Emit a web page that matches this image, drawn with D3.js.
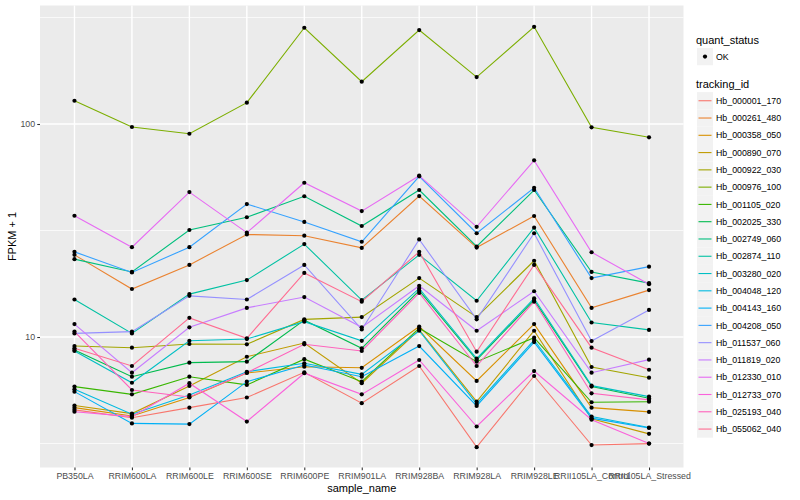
<!DOCTYPE html>
<html>
<head>
<meta charset="utf-8">
<script src="https://cdn.jsdelivr.net/npm/d3@7"></script>
<style>
  html, body { margin: 0; padding: 0; background: #fff; }
  text { font-family: "Liberation Sans", Arial, Helvetica, sans-serif; }
</style>
</head>
<body>
<svg id="chart" width="800" height="500"></svg>
<script>
// ---- data ----
const categories = ["PB350LA", "RRIM600LA", "RRIM600LE", "RRIM600SE", "RRIM600PE", "RRIM901LA",
  "RRIM928BA", "RRIM928LA", "RRIM928LE", "RRII105LA_Control", "RRII105LA_Stressed"];

const trackingIds = ["Hb_000001_170", "Hb_000261_480", "Hb_000358_050", "Hb_000890_070", "Hb_000922_030",
  "Hb_000976_100", "Hb_001105_020", "Hb_002025_330", "Hb_002749_060", "Hb_002874_110",
  "Hb_003280_020", "Hb_004048_120", "Hb_004143_160", "Hb_004208_050", "Hb_011537_060",
  "Hb_011819_020", "Hb_012330_010", "Hb_012733_070", "Hb_025193_040", "Hb_055062_040"];

const yTicks = [10, 100];
const quantStatus = ["OK"];

// FPKM + 1 per sample (in category order)
const s000001_170 = [4.55, 4.18, 4.66, 5.20, 6.83, 4.89, 7.31, 3.04, 6.56, 3.11, 3.16];
const s000261_480 = [24.3, 16.8, 21.8, 30.3, 29.9, 26.2, 45.9, 26.3, 37.0, 13.7, 16.6];
const s000358_050 = [4.66, 4.26, 5.20, 6.78, 7.25, 7.17, 11.2, 6.22, 11.5, 4.66, 4.45];
const s000890_070 = [4.77, 4.37, 5.89, 8.08, 9.37, 6.07, 10.8, 4.97, 10.7, 4.13, 3.51];
const s000922_030 = [9.07, 8.91, 9.27, 9.24, 12.1, 12.4, 18.9, 12.4, 22.8, 7.23, 6.44];
const s000976_100 = [128.6, 96.8, 90.0, 125.9, 283, 158, 276, 166, 286, 96.5, 86.6];
const s001105_020 = [5.85, 5.38, 6.51, 5.96, 7.87, 6.17, 11.0, 7.66, 9.93, 4.94, 4.97];
const s002025_330 = [8.69, 6.51, 7.58, 7.66, 12.0, 8.85, 16.5, 7.80, 14.9, 5.85, 5.16];
const s002749_060 = [23.2, 20.2, 31.8, 36.5, 45.8, 33.2, 49.0, 26.6, 49.0, 20.2, 17.9];
const s002874_110 = [15.0, 10.4, 15.9, 18.5, 27.3, 14.9, 24.3, 14.8, 32.6, 11.7, 10.8];
const s003280_020 = [8.60, 6.10, 9.60, 9.78, 11.8, 9.60, 16.9, 7.91, 15.2, 5.91, 5.25];
const s004048_120 = [5.68, 4.34, 5.34, 6.87, 7.53, 6.68, 10.7, 4.85, 9.68, 4.23, 3.76];
const s004143_160 = [5.54, 3.93, 3.90, 6.17, 7.39, 6.51, 9.07, 4.75, 9.47, 4.16, 3.74];
const s004208_050 = [25.1, 20.1, 26.4, 42.1, 34.7, 28.0, 56.8, 30.7, 50.2, 18.9, 21.4];
const s011537_060 = [10.4, 10.6, 15.6, 15.0, 21.8, 10.85, 28.7, 12.1, 30.7, 9.57, 13.4];
const s011819_020 = [11.5, 6.80, 11.1, 13.7, 15.4, 11.1, 17.4, 10.7, 16.4, 6.80, 7.83];
const s012330_010 = [37.1, 26.4, 47.9, 30.9, 53.0, 39.0, 57.2, 32.9, 67.5, 25.0, 17.7];
const s012733_070 = [4.46, 4.23, 6.07, 4.01, 6.76, 5.38, 7.80, 3.80, 6.92, 4.09, 3.16];
const s025193_040 = [10.6, 5.64, 5.23, 6.80, 9.24, 8.60, 16.1, 7.31, 14.65, 5.44, 5.07];
const s055062_040 = [8.85, 7.31, 12.3, 9.86, 20.0, 14.65, 25.1, 8.53, 21.8, 8.91, 7.02];

const seriesValues = [s000001_170, s000261_480, s000358_050, s000890_070, s000922_030,
  s000976_100, s001105_020, s002025_330, s002749_060, s002874_110,
  s003280_020, s004048_120, s004143_160, s004208_050, s011537_060,
  s011819_020, s012330_010, s012733_070, s025193_040, s055062_040];

// ggplot2 default hue palette for 20 levels
const palette = ["#F8766D", "#EA8331", "#D89000", "#C09B00", "#A3A500", "#7CAE00", "#39B600", "#00BB4E",
  "#00BF7D", "#00C1A3", "#00BFC4", "#00BAE0", "#00B0F6", "#35A2FF", "#9590FF", "#C77CFF",
  "#E76BF3", "#FA62DB", "#FF62BC", "#FF6C91"];

const series = trackingIds.map((id, i) => ({
  id,
  values: categories.map((c, j) => ({ sample: c, value: seriesValues[i][j] }))
}));

// ---- layout ----
const svg = d3.select("#chart");
const panel = { left: 40, right: 683.5, top: 5.5, bottom: 467.5 };

const x = d3.scalePoint().domain(categories).range([panel.left, panel.right]).padding(0.6);
const y = d3.scaleLog().domain([2.44, 360]).range([panel.bottom, panel.top]);
const color = d3.scaleOrdinal().domain(trackingIds).range(palette);

// panel background
svg.append("rect")
  .attr("x", panel.left).attr("y", panel.top)
  .attr("width", panel.right - panel.left).attr("height", panel.bottom - panel.top)
  .attr("fill", "#EBEBEB");

// minor gridlines (midpoints in log space)
const minorTicks = [Math.pow(10, 0.5), Math.pow(10, 1.5), Math.pow(10, 2.5)];
svg.append("g").selectAll("line").data(minorTicks).join("line")
  .attr("x1", panel.left).attr("x2", panel.right)
  .attr("y1", d => y(d)).attr("y2", d => y(d))
  .attr("stroke", "#fff").attr("stroke-width", 0.7);

// major gridlines
svg.append("g").selectAll("line").data(yTicks).join("line")
  .attr("x1", panel.left).attr("x2", panel.right)
  .attr("y1", d => y(d)).attr("y2", d => y(d))
  .attr("stroke", "#fff").attr("stroke-width", 1.4);
svg.append("g").selectAll("line").data(categories).join("line")
  .attr("x1", d => x(d)).attr("x2", d => x(d))
  .attr("y1", panel.top).attr("y2", panel.bottom)
  .attr("stroke", "#fff").attr("stroke-width", 1.4);

// lines
const line = d3.line().x(d => x(d.sample)).y(d => y(d.value));
svg.append("g").selectAll("path").data(series).join("path")
  .attr("d", d => line(d.values))
  .attr("fill", "none")
  .attr("stroke", d => color(d.id))
  .attr("stroke-width", 1.1);

// points
svg.append("g").selectAll("g").data(series).join("g")
  .selectAll("circle").data(d => d.values).join("circle")
  .attr("cx", d => x(d.sample)).attr("cy", d => y(d.value))
  .attr("r", 2.1).attr("fill", "#000");

// axes
const yAxis = d3.axisLeft(y).tickValues(yTicks).tickFormat(d3.format("d")).tickSize(2.75).tickPadding(2.2);
const gy = svg.append("g").attr("transform", `translate(${panel.left},0)`).call(yAxis);
const xAxis = d3.axisBottom(x).tickSize(2.75).tickPadding(2.2);
const gx = svg.append("g").attr("transform", `translate(0,${panel.bottom})`).call(xAxis);
[gx, gy].forEach(g => {
  g.select(".domain").remove();
  g.selectAll(".tick line").attr("stroke", "#333333").attr("stroke-width", 1.07);
  g.selectAll(".tick text").attr("fill", "#4D4D4D").style("font-size", "8.8px")
    .style("font-family", "'Liberation Sans', Arial, sans-serif");
});

// axis titles
svg.append("text")
  .attr("x", (panel.left + panel.right) / 2).attr("y", 492)
  .attr("text-anchor", "middle").style("font-size", "11px").attr("fill", "#000")
  .text("sample_name");
svg.append("text")
  .attr("transform", `translate(15.5,${(panel.top + panel.bottom) / 2}) rotate(-90)`)
  .attr("text-anchor", "middle").style("font-size", "11px").attr("fill", "#000")
  .text("FPKM + 1");

// legend: quant_status
const lg = svg.append("g");
lg.append("text").attr("x", 696).attr("y", 43.5).style("font-size", "11px").text("quant_status");
const okG = lg.append("g").selectAll("g").data(quantStatus).join("g");
okG.append("rect").attr("x", 697).attr("y", 48).attr("width", 16).attr("height", 17.28).attr("fill", "#F2F2F2");
okG.append("circle").attr("cx", 705).attr("cy", 56.6).attr("r", 2.1).attr("fill", "#000");
okG.append("text").attr("x", 716).attr("y", 59.8).style("font-size", "8.8px").text(d => d);

// legend: tracking_id
lg.append("text").attr("x", 696).attr("y", 87.8).style("font-size", "11px").text("tracking_id");
const keyH = 17.28, key0 = 92.1;
const items = lg.append("g").selectAll("g").data(trackingIds).join("g")
  .attr("transform", (d, i) => `translate(0,${key0 + i * keyH})`);
items.append("rect").attr("x", 697).attr("y", 0).attr("width", 16).attr("height", keyH).attr("fill", "#F2F2F2");
items.append("line").attr("x1", 698.5).attr("x2", 711.5).attr("y1", keyH / 2).attr("y2", keyH / 2)
  .attr("stroke", d => color(d)).attr("stroke-width", 1.1);
items.append("text").attr("x", 716).attr("y", keyH / 2 + 3.2).style("font-size", "8.8px").text(d => d);
</script>
</body>
</html>
